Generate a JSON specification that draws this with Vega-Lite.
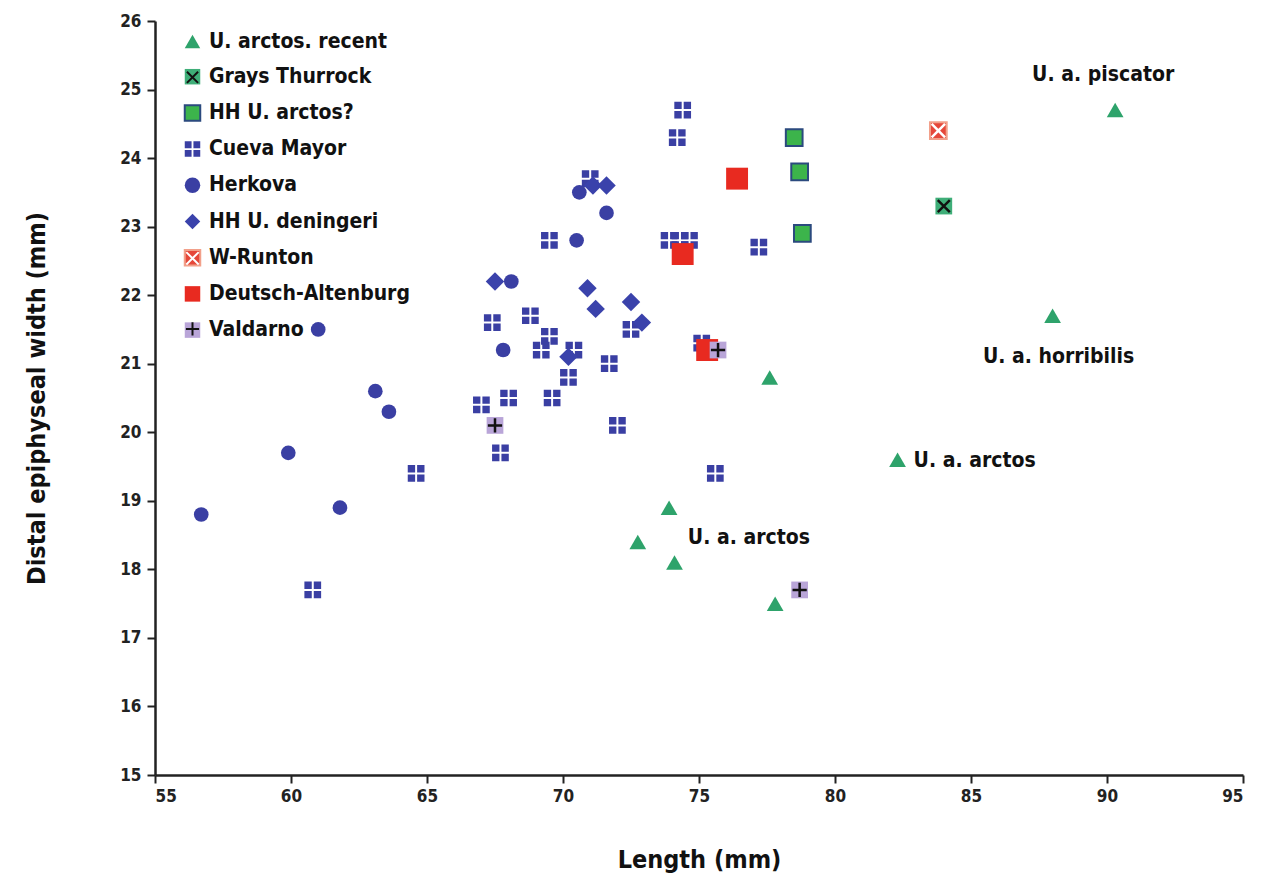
{
  "$schema": "https://vega.github.io/schema/vega-lite/v6.json",
  "width": 1088,
  "height": 754,
  "autosize": {"type": "none"},
  "padding": {"left": 155, "top": 21, "right": 23, "bottom": 104},
  "background": "white",
  "config": {
    "view": {"stroke": null},
    "font": "'DejaVu Sans Condensed', 'Liberation Sans Narrow', Roboto, sans-serif",
    "axis": {
      "grid": false,
      "domainColor": "#222",
      "domainWidth": 2.5,
      "tickColor": "#222",
      "tickWidth": 2,
      "tickSize": 8,
      "labelFont": "'DejaVu Sans Condensed', 'Liberation Sans Narrow', Roboto, sans-serif",
      "labelFontSize": 17,
      "labelFontWeight": "bold",
      "labelColor": "#222",
      "titleFont": "'DejaVu Sans Condensed', 'Liberation Sans Narrow', Roboto, sans-serif",
      "titleFontWeight": "bold",
      "titleColor": "#111"
    }
  },
  "data": {
    "values": [
      {"g": "U. arctos. recent", "x": 90.3, "y": 24.7, "label": "U. a. piscator"},
      {"g": "U. arctos. recent", "x": 88.0, "y": 21.7, "label": "U. a. horribilis"},
      {"g": "U. arctos. recent", "x": 82.3, "y": 19.6, "label": "U. a. arctos"},
      {"g": "U. arctos. recent", "x": 77.6, "y": 20.8},
      {"g": "U. arctos. recent", "x": 73.9, "y": 18.9},
      {"g": "U. arctos. recent", "x": 72.75, "y": 18.4, "label": "U. a. arctos"},
      {"g": "U. arctos. recent", "x": 74.1, "y": 18.1},
      {"g": "U. arctos. recent", "x": 77.8, "y": 17.5},
      {"g": "Grays Thurrock", "x": 84.0, "y": 23.3},
      {"g": "HH U. arctos?", "x": 78.5, "y": 24.3},
      {"g": "HH U. arctos?", "x": 78.7, "y": 23.8},
      {"g": "HH U. arctos?", "x": 78.8, "y": 22.9},
      {"g": "Cueva Mayor", "x": 74.4, "y": 24.7},
      {"g": "Cueva Mayor", "x": 74.2, "y": 24.3},
      {"g": "Cueva Mayor", "x": 71.0, "y": 23.7},
      {"g": "Cueva Mayor", "x": 69.5, "y": 22.8},
      {"g": "Cueva Mayor", "x": 73.9, "y": 22.8},
      {"g": "Cueva Mayor", "x": 74.3, "y": 22.8},
      {"g": "Cueva Mayor", "x": 74.65, "y": 22.8},
      {"g": "Cueva Mayor", "x": 77.2, "y": 22.7},
      {"g": "Cueva Mayor", "x": 67.4, "y": 21.6},
      {"g": "Cueva Mayor", "x": 68.8, "y": 21.7},
      {"g": "Cueva Mayor", "x": 69.5, "y": 21.4},
      {"g": "Cueva Mayor", "x": 69.2, "y": 21.2},
      {"g": "Cueva Mayor", "x": 70.4, "y": 21.2},
      {"g": "Cueva Mayor", "x": 72.5, "y": 21.5},
      {"g": "Cueva Mayor", "x": 71.7, "y": 21.0},
      {"g": "Cueva Mayor", "x": 70.2, "y": 20.8},
      {"g": "Cueva Mayor", "x": 67.0, "y": 20.4},
      {"g": "Cueva Mayor", "x": 68.0, "y": 20.5},
      {"g": "Cueva Mayor", "x": 69.6, "y": 20.5},
      {"g": "Cueva Mayor", "x": 72.0, "y": 20.1},
      {"g": "Cueva Mayor", "x": 67.7, "y": 19.7},
      {"g": "Cueva Mayor", "x": 64.6, "y": 19.4},
      {"g": "Cueva Mayor", "x": 75.6, "y": 19.4},
      {"g": "Cueva Mayor", "x": 60.8, "y": 17.7},
      {"g": "Cueva Mayor", "x": 75.1, "y": 21.3},
      {"g": "Herkova", "x": 70.6, "y": 23.5},
      {"g": "Herkova", "x": 71.6, "y": 23.2},
      {"g": "Herkova", "x": 70.5, "y": 22.8},
      {"g": "Herkova", "x": 68.1, "y": 22.2},
      {"g": "Herkova", "x": 67.8, "y": 21.2},
      {"g": "Herkova", "x": 61.0, "y": 21.5},
      {"g": "Herkova", "x": 63.1, "y": 20.6},
      {"g": "Herkova", "x": 63.6, "y": 20.3},
      {"g": "Herkova", "x": 59.9, "y": 19.7},
      {"g": "Herkova", "x": 61.8, "y": 18.9},
      {"g": "Herkova", "x": 56.7, "y": 18.8},
      {"g": "HH U. deningeri", "x": 71.1, "y": 23.6},
      {"g": "HH U. deningeri", "x": 71.6, "y": 23.6},
      {"g": "HH U. deningeri", "x": 67.5, "y": 22.2},
      {"g": "HH U. deningeri", "x": 70.9, "y": 22.1},
      {"g": "HH U. deningeri", "x": 71.2, "y": 21.8},
      {"g": "HH U. deningeri", "x": 72.5, "y": 21.9},
      {"g": "HH U. deningeri", "x": 72.9, "y": 21.6},
      {"g": "HH U. deningeri", "x": 70.2, "y": 21.1},
      {"g": "W-Runton", "x": 83.8, "y": 24.4},
      {"g": "Deutsch-Altenburg", "x": 76.4, "y": 23.7},
      {"g": "Deutsch-Altenburg", "x": 74.4, "y": 22.6},
      {"g": "Deutsch-Altenburg", "x": 75.3, "y": 21.2},
      {"g": "Valdarno", "x": 67.5, "y": 20.1},
      {"g": "Valdarno", "x": 75.7, "y": 21.2},
      {"g": "Valdarno", "x": 78.7, "y": 17.7}
    ]
  },
  "encoding": {
    "x": {
      "field": "x", "type": "quantitative",
      "scale": {"domain": [55, 95], "nice": false, "zero": false},
      "axis": {"values": [55, 60, 65, 70, 75, 80, 85, 90, 95], "title": "Length (mm)", "titleFontSize": 25, "titlePadding": 43, "labelPadding": 5}
    },
    "y": {
      "field": "y", "type": "quantitative",
      "scale": {"domain": [15, 26], "nice": false, "zero": false},
      "axis": {"values": [15, 16, 17, 18, 19, 20, 21, 22, 23, 24, 25, 26], "title": "Distal epiphyseal width (mm)", "titleFontSize": 25, "titlePadding": 70, "labelPadding": 6}
    }
  },
  "layer": [
    {
      "mark": {"type": "point", "filled": true, "opacity": 1, "strokeWidth": 2},
      "encoding": {
        "shape": {
          "field": "g", "type": "nominal",
          "scale": {
            "domain": ["U. arctos. recent", "Grays Thurrock", "HH U. arctos?", "Cueva Mayor", "Herkova", "HH U. deningeri", "W-Runton", "Deutsch-Altenburg", "Valdarno"],
            "range": ["triangle-up", "square", "square", "M-1,-1H-0.12V-0.12H-1Z M0.12,-1H1V-0.12H0.12Z M-1,0.12H-0.12V1H-1Z M0.12,0.12H1V1H0.12Z", "circle", "diamond", "square", "square", "square"]
          },
          "legend": {"orient": "none", "legendX": 27, "legendY": 10, "title": null, "padding": 0, "symbolSize": 240, "symbolStrokeWidth": 2, "rowPadding": 11.2, "labelOffset": 6, "labelFontSize": 21, "labelFontWeight": "bold", "labelColor": "#111", "labelLimit": 400, "labelFont": "'DejaVu Sans Condensed', 'Liberation Sans Narrow', Roboto, sans-serif"}
        },
        "fill": {
          "field": "g", "type": "nominal",
          "scale": {
            "domain": ["U. arctos. recent", "Grays Thurrock", "HH U. arctos?", "Cueva Mayor", "Herkova", "HH U. deningeri", "W-Runton", "Deutsch-Altenburg", "Valdarno"],
            "range": ["#2ea36b", "#3fae78", "#3cb44b", "#3a3fa3", "#3a3fa3", "#3a42ab", "#e5483a", "#e82a20", "#b9a5d8"]
          },
          "legend": {"orient": "none", "legendX": 27, "legendY": 10, "title": null, "padding": 0, "symbolSize": 240, "symbolStrokeWidth": 2, "rowPadding": 11.2, "labelOffset": 6, "labelFontSize": 21, "labelFontWeight": "bold", "labelColor": "#111", "labelLimit": 400, "labelFont": "'DejaVu Sans Condensed', 'Liberation Sans Narrow', Roboto, sans-serif"}
        },
        "stroke": {
          "field": "g", "type": "nominal",
          "scale": {
            "domain": ["U. arctos. recent", "Grays Thurrock", "HH U. arctos?", "Cueva Mayor", "Herkova", "HH U. deningeri", "W-Runton", "Deutsch-Altenburg", "Valdarno"],
            "range": ["transparent", "transparent", "#2b4a7e", "transparent", "transparent", "transparent", "#f2a08a", "transparent", "transparent"]
          },
          "legend": {"orient": "none", "legendX": 27, "legendY": 10, "title": null, "padding": 0, "symbolSize": 240, "symbolStrokeWidth": 2, "rowPadding": 11.2, "labelOffset": 6, "labelFontSize": 21, "labelFontWeight": "bold", "labelColor": "#111", "labelLimit": 400, "labelFont": "'DejaVu Sans Condensed', 'Liberation Sans Narrow', Roboto, sans-serif"}
        },
        "size": {
          "condition": [
            {"test": "datum.g === 'Deutsch-Altenburg'", "value": 480},
            {"test": "datum.g === 'Herkova'", "value": 215},
            {"test": "datum.g === 'HH U. deningeri'", "value": 340}
          ],
          "value": 280
        }
      }
    },
    {
      "transform": [{"filter": "datum.g === 'Grays Thurrock' || datum.g === 'W-Runton' || datum.g === 'Valdarno'"}],
      "mark": {"type": "point", "filled": false, "opacity": 1, "strokeWidth": 2.5, "size": 280},
      "encoding": {
        "shape": {
          "field": "g", "type": "nominal",
          "scale": {
            "domain": ["U. arctos. recent", "Grays Thurrock", "HH U. arctos?", "Cueva Mayor", "Herkova", "HH U. deningeri", "W-Runton", "Deutsch-Altenburg", "Valdarno"],
            "range": ["M-1,-1H1V1H-1Z", "M-0.72,-0.72L0.72,0.72M-0.72,0.72L0.72,-0.72", "M-1,-1H1V1H-1Z", "M-1,-1H1V1H-1Z", "M-1,-1H1V1H-1Z", "M-1,-1H1V1H-1Z", "M-0.8,-0.8L0.8,0.8M-0.8,0.8L0.8,-0.8", "M-1,-1H1V1H-1Z", "M-0.85,0H0.85M0,-0.85V0.85"]
          },
          "legend": {"orient": "none", "legendX": 27, "legendY": 10, "title": null, "padding": 0, "symbolSize": 240, "symbolStrokeWidth": 2, "rowPadding": 11.8, "labelOffset": 6, "labelExpr": "''", "labelFontSize": 21, "labelFontWeight": "bold", "labelColor": "transparent", "labelLimit": 400, "labelFont": "'DejaVu Sans Condensed', 'Liberation Sans Narrow', Roboto, sans-serif"}
        },
        "stroke": {
          "field": "g", "type": "nominal",
          "scale": {
            "domain": ["U. arctos. recent", "Grays Thurrock", "HH U. arctos?", "Cueva Mayor", "Herkova", "HH U. deningeri", "W-Runton", "Deutsch-Altenburg", "Valdarno"],
            "range": ["transparent", "#111111", "transparent", "transparent", "transparent", "transparent", "#ffffff", "transparent", "#111111"]
          },
          "legend": {"orient": "none", "legendX": 27, "legendY": 10, "title": null, "padding": 0, "symbolSize": 240, "symbolStrokeWidth": 2, "rowPadding": 11.8, "labelOffset": 6, "labelExpr": "''", "labelFontSize": 21, "labelFontWeight": "bold", "labelColor": "transparent", "labelLimit": 400, "labelFont": "'DejaVu Sans Condensed', 'Liberation Sans Narrow', Roboto, sans-serif"}
        }
      }
    },
    {
      "transform": [{"filter": "datum.label === 'U. a. piscator'"}],
      "mark": {"type": "text", "dx": -12, "dy": -35, "fontSize": 21, "fontWeight": "bold", "color": "#111", "align": "center", "baseline": "middle"},
      "encoding": {"text": {"field": "label"}}
    },
    {
      "transform": [{"filter": "datum.label === 'U. a. horribilis'"}],
      "mark": {"type": "text", "dx": 6, "dy": 41, "fontSize": 21, "fontWeight": "bold", "color": "#111", "align": "center", "baseline": "middle"},
      "encoding": {"text": {"field": "label"}}
    },
    {
      "transform": [{"filter": "datum.label === 'U. a. arctos' && datum.x > 80"}],
      "mark": {"type": "text", "dx": 16, "dy": 1, "fontSize": 21, "fontWeight": "bold", "color": "#111", "align": "left", "baseline": "middle"},
      "encoding": {"text": {"field": "label"}}
    },
    {
      "transform": [{"filter": "datum.label === 'U. a. arctos' && datum.x < 80"}],
      "mark": {"type": "text", "dx": 50, "dy": -4, "fontSize": 21, "fontWeight": "bold", "color": "#111", "align": "left", "baseline": "middle"},
      "encoding": {"text": {"field": "label"}}
    }
  ],
  "resolve": {"scale": {"shape": "independent", "stroke": "independent", "fill": "independent"}}
}
